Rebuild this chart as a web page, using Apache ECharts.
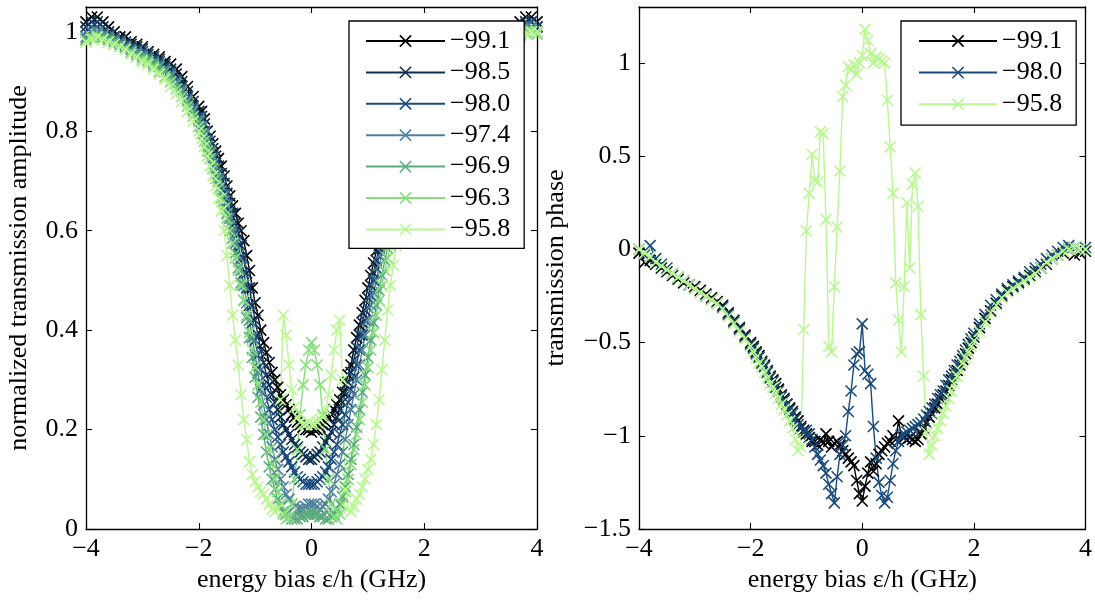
<!DOCTYPE html>
<html><head><meta charset="utf-8">
<script src="https://cdn.jsdelivr.net/npm/echarts@6/dist/echarts.min.js"></script>
<style>html,body{margin:0;padding:0;background:#fff}#c{width:1095px;height:601px}</style>
</head><body><div id="c"></div>
<script>
// energy bias grid (GHz)
const xs = [-4.0,-3.9,-3.8,-3.7,-3.6,-3.5,-3.4,-3.3,-3.2,-3.1,-3.0,-2.9,-2.8,-2.7,-2.6,-2.5,-2.4,-2.3,-2.2,-2.1,-2.0,
-1.95,-1.9,-1.85,-1.8,-1.75,-1.7,-1.65,-1.6,-1.55,-1.5,-1.45,-1.4,-1.35,-1.3,-1.25,-1.2,-1.15,-1.1,-1.05,-1.0,
-0.95,-0.9,-0.85,-0.8,-0.75,-0.7,-0.65,-0.6,-0.55,-0.5,-0.45,-0.4,-0.35,-0.3,-0.25,-0.2,-0.15,-0.1,-0.05,
0,
0.05,0.1,0.15,0.2,0.25,0.3,0.35,0.4,0.45,0.5,0.55,0.6,0.65,0.7,0.75,0.8,0.85,0.9,0.95,1.0,
1.05,1.1,1.15,1.2,1.25,1.3,1.35,1.4,1.45,1.5,1.55,1.6,1.65,1.7,1.75,1.8,1.85,1.9,1.95,
2.0,2.1,2.2,2.3,2.4,2.5,2.6,2.7,2.8,2.9,3.0,3.1,3.2,3.3,3.4,3.5,3.6,3.7,3.8,3.9,4.0];

// normalized transmission amplitude
const amp991 = [1.02,1.03,1.03,1.02,1.01,1.0,0.99,0.99,0.98,0.975,0.97,0.96,0.955,0.95,0.94,0.935,0.925,0.91,0.89,0.87,0.85,
0.84,0.825,0.80,0.79,0.775,0.76,0.745,0.73,0.71,0.69,0.67,0.65,0.635,0.615,0.60,0.58,0.55,0.52,0.485,0.455,
0.43,0.40,0.375,0.355,0.335,0.315,0.30,0.285,0.27,0.26,0.25,0.24,0.23,0.225,0.215,0.21,0.205,0.20,0.20,
0.195,
0.20,0.20,0.205,0.21,0.215,0.225,0.23,0.24,0.25,0.26,0.275,0.29,0.31,0.33,0.36,0.385,0.41,0.435,0.46,0.485,
0.51,0.535,0.56,0.585,0.61,0.63,0.65,0.665,0.68,0.695,0.71,0.725,0.74,0.755,0.77,0.785,0.80,0.815,0.83,
0.845,0.865,0.885,0.905,0.92,0.93,0.94,0.95,0.955,0.96,0.97,0.975,0.98,0.985,0.99,1.0,1.01,1.02,1.03,1.03,1.02];
const amp985 = [1.01,1.02,1.02,1.01,1.0,0.99,0.985,0.98,0.975,0.97,0.965,0.96,0.95,0.945,0.935,0.925,0.915,0.90,0.88,0.86,0.84,
0.83,0.815,0.80,0.78,0.765,0.75,0.73,0.715,0.695,0.675,0.655,0.635,0.615,0.595,0.57,0.545,0.515,0.485,0.45,0.42,
0.39,0.36,0.335,0.31,0.29,0.27,0.255,0.24,0.225,0.21,0.20,0.19,0.18,0.17,0.165,0.155,0.15,0.145,0.14,
0.14,
0.145,0.15,0.155,0.165,0.175,0.185,0.195,0.21,0.225,0.24,0.255,0.275,0.295,0.315,0.34,0.365,0.39,0.415,0.44,0.465,
0.49,0.515,0.54,0.565,0.59,0.61,0.63,0.65,0.665,0.68,0.70,0.715,0.73,0.745,0.76,0.775,0.79,0.805,0.82,
0.835,0.855,0.875,0.895,0.91,0.925,0.935,0.945,0.95,0.96,0.965,0.97,0.975,0.98,0.985,0.99,1.0,1.01,1.02,1.02,1.01];
const amp980 = [1.0,1.01,1.01,1.0,0.995,0.99,0.98,0.975,0.97,0.965,0.96,0.955,0.945,0.94,0.93,0.92,0.905,0.89,0.87,0.85,0.83,
0.82,0.80,0.785,0.77,0.75,0.735,0.715,0.70,0.68,0.66,0.64,0.615,0.595,0.57,0.545,0.515,0.485,0.45,0.415,0.38,
0.35,0.32,0.29,0.265,0.24,0.22,0.20,0.185,0.17,0.155,0.145,0.135,0.125,0.115,0.105,0.10,0.095,0.09,0.09,
0.09,
0.09,0.095,0.10,0.105,0.115,0.125,0.14,0.155,0.17,0.19,0.21,0.23,0.255,0.28,0.305,0.33,0.36,0.39,0.42,0.445,
0.47,0.50,0.525,0.55,0.575,0.60,0.62,0.64,0.655,0.67,0.69,0.705,0.72,0.735,0.75,0.765,0.78,0.795,0.81,
0.825,0.845,0.865,0.885,0.90,0.915,0.925,0.935,0.945,0.955,0.96,0.965,0.97,0.975,0.98,0.99,1.0,1.01,1.015,1.02,1.01];
const amp974 = [0.99,1.0,1.0,0.995,0.99,0.985,0.98,0.97,0.965,0.96,0.955,0.95,0.94,0.935,0.925,0.915,0.90,0.885,0.865,0.845,0.825,
0.81,0.795,0.78,0.76,0.745,0.725,0.705,0.69,0.67,0.65,0.625,0.60,0.575,0.55,0.52,0.49,0.455,0.42,0.385,0.35,
0.315,0.28,0.25,0.22,0.19,0.165,0.14,0.12,0.10,0.085,0.07,0.06,0.05,0.045,0.04,0.04,0.04,0.045,0.05,
0.05,
0.05,0.045,0.04,0.045,0.05,0.06,0.075,0.09,0.11,0.13,0.155,0.18,0.21,0.24,0.27,0.30,0.33,0.36,0.39,0.42,
0.45,0.475,0.50,0.53,0.555,0.58,0.60,0.62,0.64,0.66,0.675,0.69,0.705,0.72,0.735,0.75,0.765,0.78,0.795,
0.81,0.835,0.855,0.875,0.89,0.905,0.92,0.93,0.94,0.95,0.955,0.96,0.965,0.97,0.98,0.985,0.995,1.0,1.01,1.01,1.0];
const amp969 = [0.985,0.99,0.995,0.99,0.985,0.98,0.975,0.97,0.96,0.955,0.95,0.945,0.935,0.93,0.92,0.91,0.895,0.88,0.86,0.84,0.82,
0.805,0.79,0.77,0.755,0.735,0.715,0.70,0.68,0.66,0.635,0.61,0.585,0.555,0.525,0.495,0.46,0.425,0.385,0.345,0.305,
0.265,0.225,0.19,0.155,0.125,0.10,0.08,0.06,0.045,0.035,0.03,0.025,0.02,0.02,0.02,0.025,0.025,0.03,0.03,
0.03,
0.03,0.03,0.025,0.025,0.02,0.02,0.025,0.03,0.04,0.05,0.065,0.085,0.11,0.14,0.17,0.205,0.24,0.275,0.31,0.345,
0.38,0.415,0.45,0.48,0.51,0.54,0.565,0.59,0.615,0.635,0.655,0.675,0.69,0.705,0.72,0.735,0.75,0.765,0.78,
0.795,0.82,0.845,0.865,0.88,0.895,0.91,0.92,0.93,0.94,0.95,0.955,0.96,0.965,0.975,0.98,0.99,0.995,1.0,1.005,1.0];
const amp963 = [0.98,0.99,0.99,0.985,0.98,0.975,0.97,0.965,0.96,0.95,0.945,0.94,0.93,0.92,0.91,0.90,0.885,0.87,0.85,0.83,0.81,
0.795,0.78,0.76,0.745,0.725,0.705,0.685,0.665,0.645,0.625,0.60,0.575,0.545,0.52,0.49,0.46,0.43,0.395,0.36,0.325,
0.29,0.255,0.22,0.19,0.16,0.13,0.10,0.075,0.05,0.03,0.02,0.025,0.05,0.10,0.16,0.23,0.29,0.33,0.36,
0.375,
0.36,0.33,0.29,0.23,0.16,0.10,0.05,0.025,0.02,0.03,0.05,0.075,0.10,0.13,0.16,0.19,0.22,0.255,0.29,0.325,
0.36,0.395,0.43,0.46,0.49,0.52,0.545,0.57,0.595,0.62,0.64,0.66,0.68,0.70,0.715,0.73,0.745,0.76,0.775,
0.79,0.815,0.835,0.855,0.87,0.885,0.90,0.915,0.925,0.935,0.945,0.95,0.955,0.96,0.97,0.975,0.985,0.99,1.0,1.0,0.995];
const amp958 = [0.98,0.985,0.99,0.985,0.98,0.975,0.97,0.965,0.955,0.95,0.94,0.935,0.925,0.915,0.905,0.89,0.875,0.86,0.84,0.82,0.80,
0.785,0.77,0.75,0.73,0.71,0.69,0.665,0.64,0.60,0.55,0.49,0.43,0.38,0.33,0.27,0.22,0.18,0.135,0.11,0.095,
0.085,0.075,0.07,0.06,0.05,0.04,0.035,0.04,0.26,0.43,0.39,0.33,0.28,0.245,0.225,0.215,0.21,0.21,0.215,
0.21,
0.21,0.215,0.22,0.225,0.24,0.27,0.31,0.36,0.40,0.42,0.30,0.08,0.04,0.035,0.045,0.06,0.07,0.085,0.10,0.12,
0.14,0.17,0.21,0.26,0.32,0.38,0.44,0.49,0.53,0.57,0.61,0.64,0.665,0.685,0.705,0.72,0.74,0.755,0.77,
0.785,0.81,0.83,0.85,0.865,0.88,0.895,0.91,0.92,0.93,0.94,0.945,0.955,0.96,0.965,0.975,0.98,0.99,0.995,1.0,1.0];

// transmission phase
const ph991 = [-0.02,-0.07,-0.06,-0.08,-0.1,-0.12,-0.14,-0.16,-0.18,-0.19,-0.2,-0.22,-0.24,-0.26,-0.28,-0.3,-0.34,-0.38,-0.42,-0.46,-0.5,
-0.52,-0.55,-0.57,-0.6,-0.62,-0.65,-0.68,-0.7,-0.72,-0.75,-0.78,-0.8,-0.83,-0.85,-0.87,-0.9,-0.92,-0.95,-0.97,-0.99,
-1.01,-1.03,-1.03,-1.05,-1.02,-1.04,-0.99,-1.03,-1.06,-1.04,-1.03,-1.05,-1.08,-1.1,-1.12,-1.14,-1.16,-1.24,-1.31,
-1.35,
-1.27,-1.2,-1.14,-1.19,-1.15,-1.1,-1.08,-1.06,-1.04,-1.03,-1.0,-1.02,-0.92,-1.0,-1.01,-1.02,-1.01,-1.02,-1.03,-1.02,
-0.99,-0.96,-0.93,-0.9,-0.88,-0.85,-0.83,-0.8,-0.78,-0.76,-0.73,-0.7,-0.67,-0.65,-0.62,-0.59,-0.56,-0.53,-0.5,
-0.47,-0.42,-0.37,-0.33,-0.29,-0.25,-0.22,-0.2,-0.18,-0.16,-0.14,-0.12,-0.1,-0.08,-0.05,-0.03,-0.02,0.0,-0.03,-0.02,-0.01];
const ph980 = [0.0,-0.03,0.02,-0.05,-0.08,-0.1,-0.13,-0.15,-0.17,-0.19,-0.21,-0.23,-0.25,-0.27,-0.29,-0.31,-0.35,-0.39,-0.43,-0.47,-0.51,
-0.53,-0.56,-0.58,-0.61,-0.63,-0.66,-0.69,-0.71,-0.74,-0.76,-0.79,-0.81,-0.83,-0.86,-0.88,-0.91,-0.94,-0.96,-0.98,-0.97,
-0.99,-1.02,-1.06,-1.1,-1.13,-1.16,-1.2,-1.26,-1.31,-1.36,-1.22,-1.1,-1.05,-1.0,-0.87,-0.76,-0.62,-0.56,-0.55,
-0.4,
-0.65,-0.67,-0.72,-0.95,-1.12,-1.25,-1.32,-1.36,-1.33,-1.24,-1.15,-1.08,-1.03,-1.0,-0.99,-0.98,-0.97,-0.96,-0.95,-0.94,
-0.93,-0.91,-0.89,-0.87,-0.85,-0.83,-0.8,-0.78,-0.76,-0.73,-0.7,-0.68,-0.65,-0.62,-0.6,-0.57,-0.54,-0.51,-0.48,
-0.45,-0.4,-0.35,-0.3,-0.27,-0.24,-0.21,-0.19,-0.17,-0.15,-0.12,-0.1,-0.08,-0.05,-0.03,-0.01,0.01,0.02,0.01,0.0,0.01];
const ph958 = [0.0,-0.02,-0.04,-0.07,-0.09,-0.11,-0.13,-0.15,-0.17,-0.19,-0.21,-0.23,-0.25,-0.27,-0.29,-0.32,-0.36,-0.4,-0.44,-0.48,-0.52,
-0.55,-0.58,-0.61,-0.63,-0.66,-0.69,-0.72,-0.74,-0.77,-0.8,-0.83,-0.86,-0.89,-0.92,-0.96,-1.02,-1.08,-1.06,-0.43,0.10,
0.30,0.51,0.37,0.36,0.63,0.62,0.16,-0.52,-0.55,-0.2,0.12,0.42,0.82,0.88,0.98,0.96,0.99,0.94,1.0,
1.04,
1.18,1.12,1.05,1.0,1.03,1.02,1.01,1.0,0.8,0.55,0.3,-0.18,-0.38,-0.55,-0.2,0.25,-0.1,0.35,0.41,0.23,
-0.35,-0.68,-0.98,-1.1,-1.05,-1.0,-0.96,-0.92,-0.88,-0.84,-0.8,-0.76,-0.72,-0.68,-0.65,-0.61,-0.58,-0.55,-0.52,
-0.49,-0.44,-0.39,-0.34,-0.3,-0.26,-0.23,-0.21,-0.19,-0.17,-0.15,-0.13,-0.1,-0.07,-0.05,-0.03,-0.01,0.0,0.01,0.0,0.0];

const ampNames = ['−99.1','−98.5','−98.0','−97.4','−96.9','−96.3','−95.8'];
const ampColors = ['#000000','#0f2f52','#1a4b7c','#4f809e','#5aab7c','#87df7c','#b9f890'];
const ampData = [amp991, amp985, amp980, amp974, amp969, amp963, amp958];
const phNames = ['−99.1','−98.0','−95.8'];
const phColors = ['#000000','#1a4b7c','#b9f890'];
const phData = [ph991, ph980, ph958];
const xTicks = [-4,-2,0,2,4];

const FONT = 'Liberation Serif';
const FS = 26;
const XMARK = 'path://M0,0L10,10M10,0L0,10';
const minus = v => String(v).replace('-', '−');

function mkSeries(name, color, arr, axisIdx) {
  return {
    name, type: 'line', xAxisIndex: axisIdx, yAxisIndex: axisIdx,
    data: xs.map((x, i) => [x, arr[i]]),
    symbol: XMARK, symbolSize: 11, showSymbol: true,
    lineStyle: { color, width: 1.4 },
    itemStyle: { color, borderColor: color, borderWidth: 1.6 },
    emphasis: { disabled: true }, silent: true, clip: true, animation: false
  };
}

function xAx(grid, pos, showName) {
  return {
    gridIndex: grid, type: 'value', position: pos, min: -4, max: 4, interval: 2,
    axisLine: { show: true, onZero: false, lineStyle: { color: '#000', width: 1.3 } },
    axisTick: { show: true, inside: true, length: 6, lineStyle: { color: '#000', width: 1.1 } },
    axisLabel: { show: pos === 'bottom', fontFamily: FONT, fontSize: FS, color: '#000', margin: 7, formatter: minus },
    splitLine: { show: false },
    name: showName ? 'energy bias ε/h (GHz)' : '', nameLocation: 'middle', nameGap: 38,
    nameTextStyle: { fontFamily: FONT, fontSize: FS, color: '#000' }
  };
}
function yAx(grid, pos, min, max, interval, name, gap) {
  return {
    gridIndex: grid, type: 'value', position: pos, min, max, interval,
    axisLine: { show: true, onZero: false, lineStyle: { color: '#000', width: 1.3 } },
    axisTick: { show: true, inside: true, length: 6, lineStyle: { color: '#000', width: 1.1 } },
    axisLabel: { show: pos === 'left', showMaxLabel: false, fontFamily: FONT, fontSize: FS, color: '#000', margin: 8, formatter: minus },
    splitLine: { show: false },
    name: name || '', nameLocation: 'middle', nameGap: gap || 0,
    nameTextStyle: { fontFamily: FONT, fontSize: FS, color: '#000' }
  };
}

const series = [];
ampNames.forEach((n, i) => series.push(mkSeries(n, ampColors[i], ampData[i], 0)));
phNames.forEach((n, i) => series.push(mkSeries(n, phColors[i], phData[i], 2)));

const legendBase = {
  orient: 'vertical', backgroundColor: '#fff', borderColor: '#000', borderWidth: 1.3,
  itemHeight: 14, selectedMode: false,
  textStyle: { fontFamily: FONT, fontSize: FS, color: '#000', lineHeight: 26 },
  itemStyle: { borderWidth: 1.6 }, z: 10
};

const option = {
  animation: false,
  backgroundColor: '#fff',
  grid: [
    { left: 86, top: 7, width: 451, height: 522 },
    { left: 639, top: 7, width: 447, height: 522 }
  ],
  xAxis: [xAx(0, 'bottom', true), xAx(0, 'top', false), xAx(1, 'bottom', true), xAx(1, 'top', false)],
  yAxis: [
    yAx(0, 'left', 0, 1.05, 0.2, 'normalized transmission amplitude', 54),
    yAx(0, 'right', 0, 1.05, 0.2),
    yAx(1, 'left', -1.5, 1.3, 0.5, 'transmission phase', 70),
    yAx(1, 'right', -1.5, 1.3, 0.5)
  ],
  legend: [
    Object.assign({}, legendBase, { data: ampNames, left: 349, top: 21, itemWidth: 79, itemGap: 5.4, padding: [7, 14, 6, 16] }),
    Object.assign({}, legendBase, { data: phNames, left: 901, top: 21, itemWidth: 78, itemGap: 5.6, padding: [7, 14, 8, 17] })
  ],
  series
};

const chart = echarts.init(document.getElementById('c'), null, { renderer: 'canvas' });
chart.setOption(option);
</script></body></html>
